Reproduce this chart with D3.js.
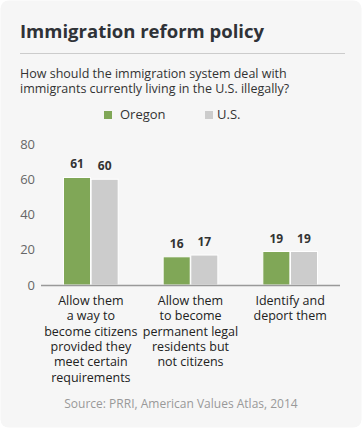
<!DOCTYPE html>
<html>
<head>
<meta charset="utf-8">
<script src="https://cdn.jsdelivr.net/npm/d3@7"></script>
<style>
  body { margin: 0; background: #ffffff; }
  svg { display: block; font-family: "Open Sans", sans-serif; }
</style>
</head>
<body>
<div id="content"></div>
<script>
// Data.
var categories = [
  ["Allow them", "a way to", "become citizens", "provided they", "meet certain", "requirements"],
  ["Allow them", "to become", "permanent legal", "residents but", "not citizens"],
  ["Identify and", "deport them"]
];
var seriesNames = ["Oregon", "U.S."];
var oregon = [61, 16, 19];
var us = [60, 17, 19];
var yTicks = [0, 20, 40, 60, 80];

var colors = ["#80a757", "#cccccc"];

var W = 363, H = 429;
var margin = {left: 41, right: 23, top: 144, bottom: 144};
var plotW = W - margin.left - margin.right;
var plotH = H - margin.top - margin.bottom;

var svg = d3.select('#content')
              .append('svg')
              .attr('width', W)
              .attr('height', H);

// Card background.
svg.append('rect')
    .attr('x', 0.5).attr('y', 0.5)
    .attr('width', 361).attr('height', 427)
    .attr('rx', 8)
    .attr('fill', '#f6f6f6');

// Title and separator.
svg.append('text')
    .attr('x', 20).attr('y', 38)
    .attr('font-size', 18.5).attr('font-weight', 700)
    .attr('fill', '#2f3237')
    .text('Immigration reform policy');

svg.append('line')
    .attr('x1', 20).attr('x2', 345)
    .attr('y1', 53.5).attr('y2', 53.5)
    .attr('stroke', '#cccccc');

// Subtitle.
svg.append('text')
    .attr('font-size', 12.5).attr('fill', '#333333')
    .selectAll('tspan')
    .data(["How should the immigration system deal with",
           "immigrants currently living in the U.S. illegally?"])
    .enter().append('tspan')
    .attr('x', 20)
    .attr('y', function(d, i) { return 78 + i * 15; })
    .text(function(d) { return d; });

// Legend.
var legendX = [104, 205];
var legend = svg.append('g').selectAll('g')
    .data(seriesNames)
    .enter().append('g')
    .attr('transform', function(d, i) { return 'translate(' + legendX[i] + ',111)'; });
legend.append('rect')
    .attr('width', 8).attr('height', 8)
    .attr('fill', function(d, i) { return colors[i]; });
legend.append('text')
    .attr('x', function(d, i) { return i === 0 ? 16 : 12; })
    .attr('y', 8)
    .attr('font-size', 13).attr('fill', '#333333')
    .text(function(d) { return d; });

var g = svg.append('g').attr('transform', 'translate(' + margin.left + ',' + margin.top + ')');

// Scales.
var y = d3.scaleLinear().domain([0, 80]).range([plotH, 0]);
var x0 = d3.scaleBand().domain(d3.range(categories.length))
    .range([0, plotW]).paddingInner(0.44).paddingOuter(0.22);
var x1 = d3.scaleBand().domain(d3.range(seriesNames.length))
    .range([0, x0.bandwidth()]).padding(0.02);

// Y axis.
var yAxis = g.append('g')
    .call(d3.axisLeft(y).tickValues(yTicks).tickSize(0).tickPadding(6));
yAxis.select('.domain').remove();
yAxis.selectAll('text')
    .attr('font-size', 13).attr('fill', '#666666')
    .attr('font-family', '"Open Sans", sans-serif');

// Bars.
var series = [oregon, us];
var groups = g.selectAll('.grp')
    .data(categories)
    .enter().append('g')
    .attr('class', 'grp')
    .attr('transform', function(d, i) { return 'translate(' + x0(i) + ',0)'; });

groups.each(function(c, ci) {
  var grp = d3.select(this);
  series.forEach(function(s, si) {
    grp.append('rect')
        .attr('x', x1(si))
        .attr('y', y(s[ci]))
        .attr('width', x1.bandwidth())
        .attr('height', plotH - y(s[ci]))
        .attr('fill', colors[si])
        .attr('stroke', '#ffffff')
        .attr('stroke-width', 1);
    grp.append('text')
        .attr('x', x1(si) + x1.bandwidth() / 2)
        .attr('y', y(s[ci]) - 9)
        .attr('text-anchor', 'middle')
        .attr('font-size', 12).attr('font-weight', 700)
        .attr('fill', '#333333')
        .text(s[ci]);
  });
});

// X axis baseline.
g.append('line')
    .attr('x1', 0).attr('x2', plotW)
    .attr('y1', y(0) + 0.5).attr('y2', y(0) + 0.5)
    .attr('stroke', '#999999').attr('stroke-width', 1.5);

// Category labels.
groups.append('text')
    .attr('text-anchor', 'middle')
    .attr('font-size', 12.5).attr('fill', '#222222')
    .selectAll('tspan')
    .data(function(d) { return d; })
    .enter().append('tspan')
    .attr('x', x0.bandwidth() / 2)
    .attr('y', function(d, i) { return plotH + 20 + i * 15.3; })
    .text(function(d) { return d; });

// Source.
svg.append('text')
    .attr('x', 181).attr('y', 408)
    .attr('text-anchor', 'middle')
    .attr('font-size', 12).attr('fill', '#999999')
    .text('Source: PRRI, American Values Atlas, 2014');
</script>
</body>
</html>
